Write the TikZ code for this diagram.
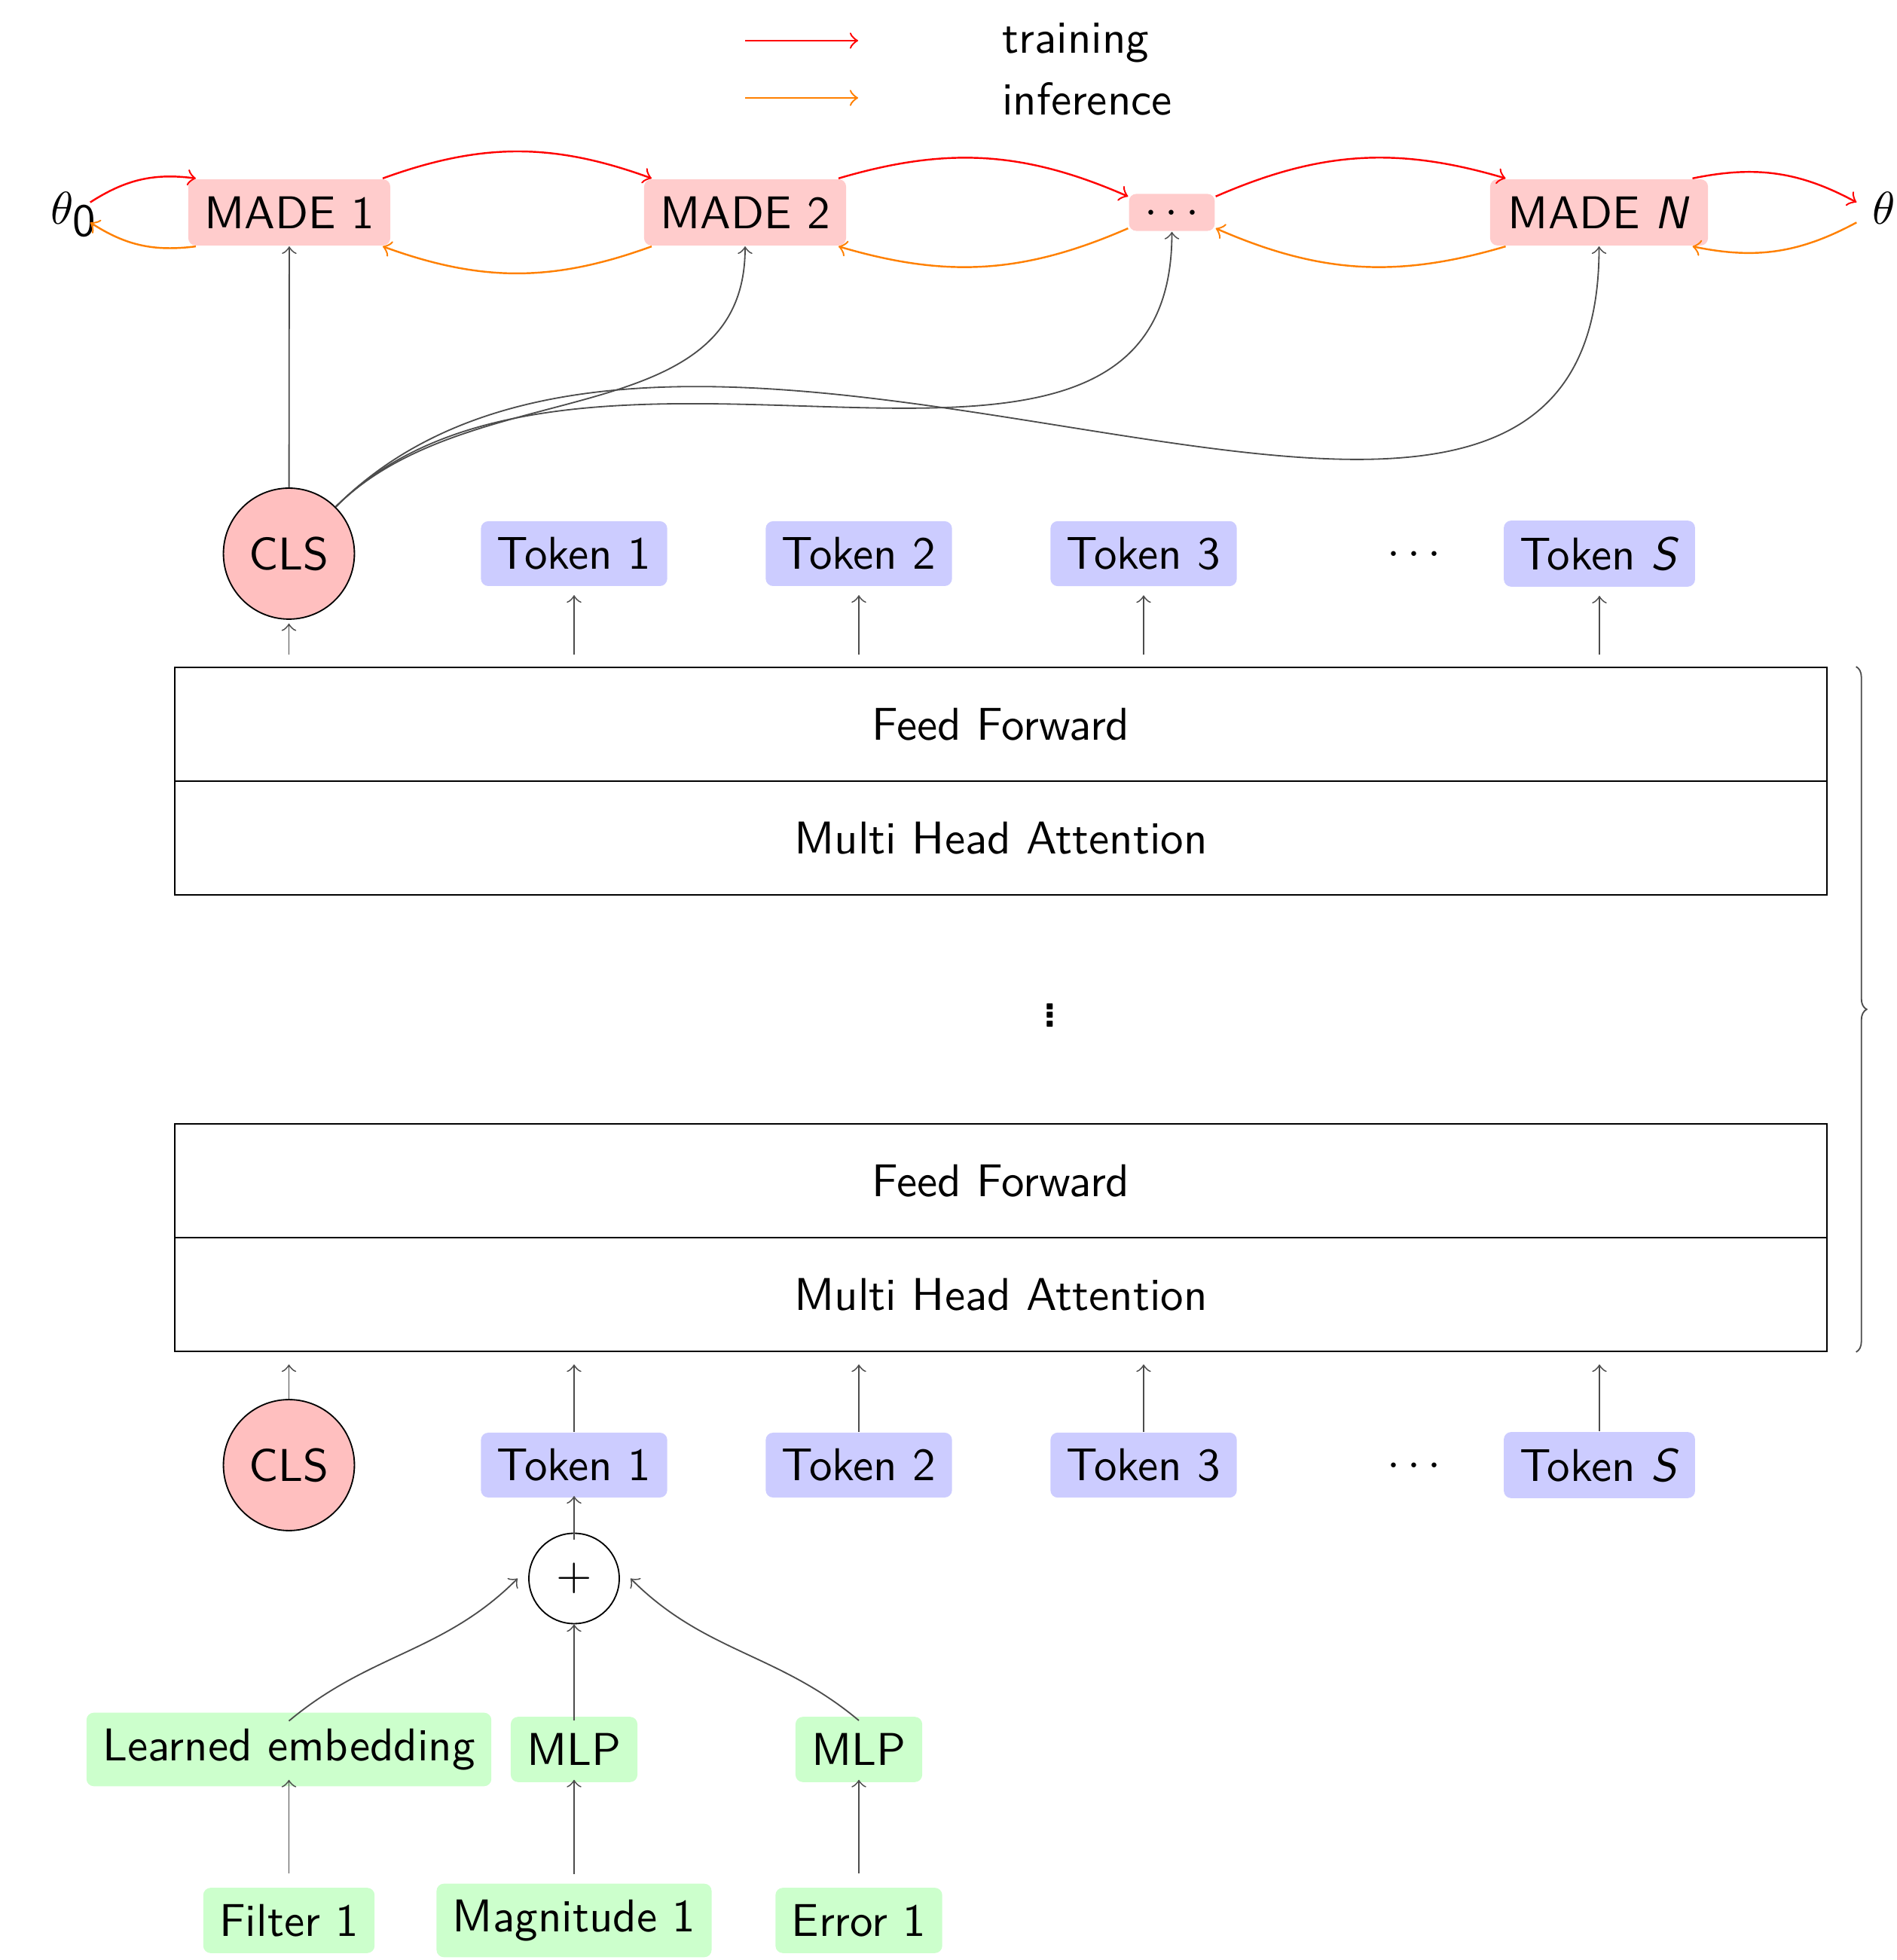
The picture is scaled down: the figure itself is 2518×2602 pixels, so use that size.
\documentclass[tikz,border=0pt]{standalone}
\usepackage{fontspec}
\usetikzlibrary{decorations.pathreplacing}
\begin{document}
\begin{tikzpicture}[x=0.1639pt, y=0.1639pt,
  every node/.style={font=\sffamily},
  made/.style={fill=red!20, rounded corners=1.6pt, inner sep=3.5pt, minimum height=14.4pt},
  tok/.style={fill=blue!20, rounded corners=1.6pt, inner sep=3.5pt, minimum height=14.1pt},
  inp/.style={fill=green!20, rounded corners=1.6pt, inner sep=3.5pt, minimum height=14.2pt},
  clsnode/.style={circle, draw=black, line width=0.3pt, fill=red!25, minimum size=28.5pt, inner sep=0pt},
  blk/.style={draw=black, line width=0.3pt, minimum width=359.4pt, minimum height=24.75pt, inner sep=0pt},
  arr/.style={->, draw=black!70, line width=0.3pt},
  tr/.style={->, draw=red, line width=0.4pt},
  inf/.style={->, draw=orange, line width=0.4pt}]
\useasboundingbox (0,0) rectangle (2518,2602);

% legend
\coordinate (lr1) at (989,2548);
\coordinate (lr2) at (1139,2548);
\coordinate (lo1) at (989,2472);
\coordinate (lo2) at (1139,2472);
\draw[tr] (lr1) -- (lr2);
\draw[inf] (lo1) -- (lo2);
\node[anchor=base west, inner sep=0pt] (ltr) at (1329,2531) {training};
\node[anchor=base west, inner sep=0pt] (linf) at (1329,2449) {inference};

% MADE chain
\node[text depth=1.7pt] (th0) at (83,2320) {$\theta$\rlap{\kern-0.3pt\raisebox{-2.5pt}{0}}};
\node[made] (m1) at (384,2320) {MADE 1};
\node[made] (m2) at (989,2320) {MADE 2};
\node[fill=red!20, rounded corners=1.6pt, inner sep=3.5pt] (dt) at (1555.5,2320) {$\ldots$};
\node[made, minimum width=47.4pt] (mN) at (2122.5,2320) {MADE \textit{N}};
\node[text depth=1.7pt] (th) at (2501,2320) {$\theta$};

\draw[tr] (th0) to[bend left=20] (m1);
\draw[tr] (m1) to[bend left=20] (m2);
\draw[tr] (m2) to[bend left=20] (dt);
\draw[tr] (dt) to[bend left=20] (mN);
\draw[tr] (mN) to[bend left=20] (th);
\draw[inf] (m1) to[bend left=20] (th0);
\draw[inf] (m2) to[bend left=20] (m1);
\draw[inf] (dt) to[bend left=20] (m2);
\draw[inf] (mN) to[bend left=20] (dt);
\draw[inf] (th) to[bend left=20] (mN);

% upper token row
\node[clsnode] (c2) at (383.5,1867) {CLS};
\node[tok] (u1) at (762,1867) {Token 1};
\node[tok] (u2) at (1140,1867) {Token 2};
\node[tok] (u3) at (1518,1867) {Token 3};
\node (ud) at (1877,1867) {$\ldots$};
\node[tok] (uS) at (2123,1867) {Token \textit{S}};

\draw[arr] (c2) -- (m1);
\draw[arr] (c2) to[out=45,in=-90] (m2);
\draw[arr] (c2) to[out=45,in=-90] (dt);
\draw[arr] (c2) to[out=45,in=-90] (mN);

% transformer blocks
\node[blk] (ffu) at (1328.5,1640.5) {Feed Forward};
\node[blk] (mhu) at (1328.5,1489.5) {Multi Head Attention};
\node[inner sep=0pt, font=\sffamily\bfseries] (vd) at (1394,1254) {\vbox{\baselineskip=1.9pt\lineskiplimit=-100pt\hbox{.}\hbox{.}\hbox{.}}};
\node[blk] (ffl) at (1328.5,1034.5) {Feed Forward};
\node[blk] (mhl) at (1328.5,883.5) {Multi Head Attention};

\draw[arr, shorten <=2.6pt, shorten >=0.8pt] (c2 |- ffu.north) -- (c2);
\draw[arr, shorten <=2.6pt, shorten >=1.8pt] (u1 |- ffu.north) -- (u1);
\draw[arr, shorten <=2.6pt, shorten >=1.8pt] (u2 |- ffu.north) -- (u2);
\draw[arr, shorten <=2.6pt, shorten >=1.8pt] (u3 |- ffu.north) -- (u3);
\draw[arr, shorten <=2.6pt, shorten >=1.8pt] (uS |- ffu.north) -- (uS);

\draw[draw=black!70, line width=0.3pt, decorate, decoration={brace, amplitude=2.3pt}]
  ([xshift=6.2pt]ffu.north east) -- ([xshift=6.2pt]mhl.south east);

% lower token row
\node[clsnode] (c1) at (383.5,657) {CLS};
\node[tok] (l1) at (762,657) {Token 1};
\node[tok] (l2) at (1140,657) {Token 2};
\node[tok] (l3) at (1518,657) {Token 3};
\node (ld) at (1877,657) {$\ldots$};
\node[tok] (lS) at (2123,657) {Token \textit{S}};

\draw[arr, shorten >=2.7pt] (c1) -- (c1 |- mhl.south);
\draw[arr, shorten >=2.7pt] (l1) -- (l1 |- mhl.south);
\draw[arr, shorten >=2.7pt] (l2) -- (l2 |- mhl.south);
\draw[arr, shorten >=2.7pt] (l3) -- (l3 |- mhl.south);
\draw[arr, shorten >=2.7pt] (lS) -- (lS |- mhl.south);

% embedding of token 1
\node[circle, draw=black, line width=0.3pt, inner sep=3.33pt] (pl) at (762,506.5) {$+$};
\draw[arr, shorten <=-1.5pt, shorten >=-0.5pt] (pl) -- (l1);

\node[inp] (emb) at (383.5,279.5) {Learned embedding};
\node[inp] (mlpa) at (762,279.5) {MLP};
\node[inp] (mlpb) at (1140,279.5) {MLP};
\node[inp] (fil) at (383.5,52.5) {Filter 1};
\node[inp] (mag) at (762,52.5) {Magnitude 1};
\node[inp] (err) at (1140,52.5) {Error 1};

\draw[arr, shorten <=2.9pt, shorten >=-1.6pt] (fil) -- (emb);
\draw[arr, shorten <=1.9pt, shorten >=-0.7pt] (mag) -- (mlpa);
\draw[arr, shorten <=2.9pt, shorten >=-0.7pt] (err) -- (mlpb);
\draw[arr, shorten <=-1pt] (mlpa) -- (pl);
\draw[arr] ([yshift=-2pt]emb.north) to[out=40,in=225] ([xshift=-2.3pt]pl.west);
\draw[arr] ([yshift=-1pt]mlpb.north) to[out=140,in=-45] ([xshift=2.3pt]pl.east);
\end{tikzpicture}
\end{document}
